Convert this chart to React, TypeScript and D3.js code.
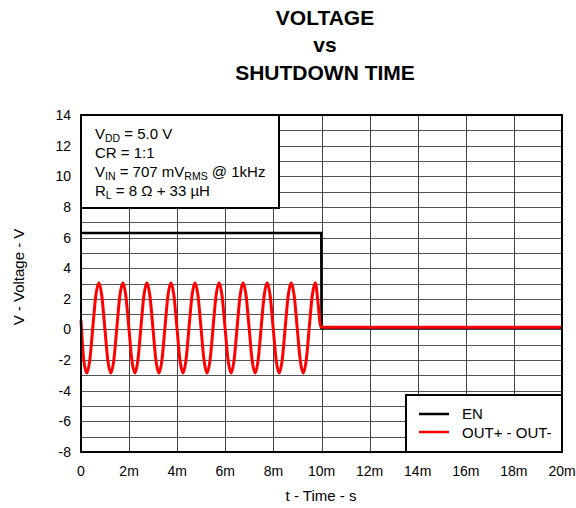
import React from "react";
import * as d3 from "d3";

const xTicks = [0, 2, 4, 6, 8, 10, 12, 14, 16, 18, 20];
const xTickLabels = ["0", "2m", "4m", "6m", "8m", "10m", "12m", "14m", "16m", "18m", "20m"];
const yTicks = [-8, -6, -4, -2, 0, 2, 4, 6, 8, 10, 12, 14];

// EN trace (time in ms, volts)
const enT = [0, 9.99, 10.0, 20];
const enV = [6.3, 6.3, 0.1, 0.1];

// OUT+ - OUT- trace: points (time in ms, volts)
const outT = [
  0, 0.115, 0.24, 0.365, 0.49, 0.615, 0.74, 0.865,
  0.99, 1.115, 1.24, 1.365, 1.49, 1.615, 1.74, 1.865,
  1.99, 2.115, 2.24, 2.365, 2.49, 2.615, 2.74, 2.865,
  2.99, 3.115, 3.24, 3.365, 3.49, 3.615, 3.74, 3.865,
  3.99, 4.115, 4.24, 4.365, 4.49, 4.615, 4.74, 4.865,
  4.99, 5.115, 5.24, 5.365, 5.49, 5.615, 5.74, 5.865,
  5.99, 6.115, 6.24, 6.365, 6.49, 6.615, 6.74, 6.865,
  6.99, 7.115, 7.24, 7.365, 7.49, 7.615, 7.74, 7.865,
  7.99, 8.115, 8.24, 8.365, 8.49, 8.615, 8.74, 8.865,
  8.99, 9.115, 9.24, 9.365, 9.49, 9.615, 9.74, 9.865,
  9.96, 10.1, 20,
];
const outV = [
  0.6, -2.0, -2.85, -2.0, 0.1, 2.2, 3.05, 2.2,
  0.1, -2.0, -2.85, -2.0, 0.1, 2.2, 3.05, 2.2,
  0.1, -2.0, -2.85, -2.0, 0.1, 2.2, 3.05, 2.2,
  0.1, -2.0, -2.85, -2.0, 0.1, 2.2, 3.05, 2.2,
  0.1, -2.0, -2.85, -2.0, 0.1, 2.2, 3.05, 2.2,
  0.1, -2.0, -2.85, -2.0, 0.1, 2.2, 3.05, 2.2,
  0.1, -2.0, -2.85, -2.0, 0.1, 2.2, 3.05, 2.2,
  0.1, -2.0, -2.85, -2.0, 0.1, 2.2, 3.05, 2.2,
  0.1, -2.0, -2.85, -2.0, 0.1, 2.2, 3.05, 2.2,
  0.1, -2.0, -2.85, -2.0, 0.1, 2.2, 3.05, 1.6,
  0.2, 0.15, 0.15,
];

const FONT = "'Liberation Sans', Arial, sans-serif";

export default function App() {
  const W = 576, H = 508;
  const L = 81, R = 562, T = 115, B = 452;
  const x = d3.scaleLinear().domain([0, 20]).range([L, R]);
  const y = d3.scaleLinear().domain([-8, 14]).range([B, T]);

  const line = d3.line<[number, number]>().x((d) => x(d[0])).y((d) => y(d[1]));
  const curve = d3
    .line<[number, number]>()
    .x((d) => x(d[0]))
    .y((d) => y(d[1]))
    .curve(d3.curveMonotoneX);

  const enPts = enT.map((t, i) => [t, enV[i]] as [number, number]);
  const outPts = outT.map((t, i) => [t, outV[i]] as [number, number]);

  const hGrid = d3.range(-7, 14, 1);
  const vGrid = d3.range(2, 20, 2);

  return (
    <svg
      width={W}
      height={H}
      style={{ position: "absolute", left: 0, top: 0, background: "#fff" }}
      fontFamily={FONT}
    >
      <rect x={0} y={0} width={W} height={H} fill="#fff" />
      {/* title */}
      <g fontWeight="bold" fontSize={21} textAnchor="middle" fill="#000">
        <text x={325} y={25}>VOLTAGE</text>
        <text x={325} y={52}>vs</text>
        <text x={325} y={80}>SHUTDOWN TIME</text>
      </g>

      {/* grid */}
      <g shapeRendering="crispEdges">
        {hGrid.map((v) => (
          <line key={"h" + v} x1={L} x2={R} y1={Math.round(y(v)) + 0.5} y2={Math.round(y(v)) + 0.5} stroke="#555" strokeWidth={1} />
        ))}
        {vGrid.map((t) => (
          <line key={"v" + t} x1={Math.round(x(t)) + 0.5} x2={Math.round(x(t)) + 0.5} y1={T} y2={B} stroke="#444" strokeWidth={1} />
        ))}
      </g>

      {/* traces */}
      <path d={line(enPts) || ""} fill="none" stroke="#000" strokeWidth={2.5} />
      <path d={curve(outPts) || ""} fill="none" stroke="#ff0000" strokeWidth={3} strokeLinejoin="round" />

      {/* frame */}
      <rect x={L} y={T} width={R - L} height={B - T} fill="none" stroke="#000" strokeWidth={2} />

      {/* annotation box */}
      <rect x={L} y={T} width={198} height={93} fill="#fff" stroke="#000" strokeWidth={2} />
      <g fontSize={15} fill="#000">
        <text x={95} y={139}>
          V<tspan fontSize={10.5} dy={3}>DD</tspan>
          <tspan dy={-3}> = 5.0 V</tspan>
        </text>
        <text x={95} y={158}>CR = 1:1</text>
        <text x={95} y={177}>
          V<tspan fontSize={10.5} dy={3}>IN</tspan>
          <tspan dy={-3}> = 707 mV</tspan>
          <tspan fontSize={10.5} dy={3}>RMS</tspan>
          <tspan dy={-3}> @ 1kHz</tspan>
        </text>
        <text x={95} y={196}>
          R<tspan fontSize={10.5} dy={3}>L</tspan>
          <tspan dy={-3}> = 8 Ω + 33 µH</tspan>
        </text>
      </g>

      {/* legend */}
      <rect x={406} y={395} width={156} height={57} fill="#fff" stroke="#000" strokeWidth={2} />
      <line x1={419} x2={449} y1={414} y2={414} stroke="#000" strokeWidth={2.5} />
      <line x1={419} x2={449} y1={432} y2={432} stroke="#ff0000" strokeWidth={2.5} />
      <g fontSize={15} fill="#000">
        <text x={462} y={419}>EN</text>
        <text x={462} y={437.5}>OUT+ - OUT-</text>
      </g>

      {/* y ticks */}
      <g fontSize={14} fill="#000" textAnchor="end">
        {yTicks.map((v) => (
          <text key={"yt" + v} x={71} y={y(v) + 5}>{v}</text>
        ))}
      </g>
      {/* x ticks */}
      <g fontSize={14} fill="#000" textAnchor="middle">
        {xTicks.map((t, i) => (
          <text key={"xt" + t} x={x(t)} y={476}>{xTickLabels[i]}</text>
        ))}
      </g>

      {/* axis titles */}
      <text x={321} y={501} fontSize={15} textAnchor="middle" fill="#000">t - Time - s</text>
      <text
        transform={`translate(24, 277) rotate(-90)`}
        fontSize={15}
        textAnchor="middle"
        fill="#000"
      >
        V - Voltage - V
      </text>
    </svg>
  );
}
